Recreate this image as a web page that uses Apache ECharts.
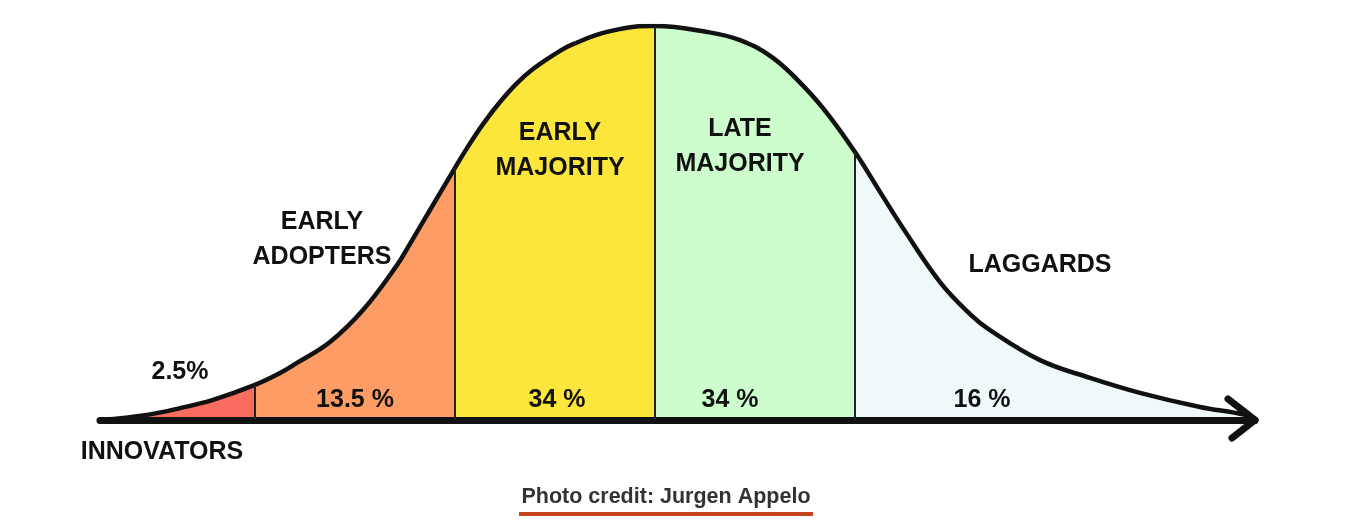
<!DOCTYPE html>
<html>
<head>
<meta charset="utf-8">
<script src="https://cdn.jsdelivr.net/npm/echarts@6/dist/echarts.min.js"></script>
<style>
  html, body { margin: 0; padding: 0; background: #fff; }
  #chart { width: 1370px; height: 524px; }
</style>
</head>
<body>
<div id="chart"></div>
<script>
// adoption curve, x in standard deviations from the mean, y = height as % of the peak
const curveX = [-2.775, -2.54, -2.375, -2.21, -2, -1.875, -1.79, -1.625, -1.46, -1.29, -1.225, -1.125,
  -1, -0.94, -0.86, -0.775, -0.69, -0.61, -0.475, -0.41, -0.24, -0.025, 0, 0.26, 0.425, 0.59, 0.76, 0.875,
  1, 1.125, 1.24, 1.425, 1.575, 1.675, 1.925, 2.175, 2.425, 2.725, 2.95, 3];
const curveY = [0, 1.3, 3.0, 5.1, 8.9, 11.9, 14.5, 19.8, 27.9, 39.3, 44.7, 53.3,
  64.0, 69.0, 75.1, 80.7, 85.5, 89.1, 93.7, 95.4, 98.5, 100, 100, 98.5, 96.4, 91.9, 83.8, 76.9,
  68.0, 57.9, 48.7, 35.0, 26.9, 22.8, 15.2, 10.7, 6.9, 3.3, 1.3, 0];

const groups = ['INNOVATORS', 'EARLY\nADOPTERS', 'EARLY\nMAJORITY', 'LATE\nMAJORITY', 'LAGGARDS'];
const shares = ['2.5%', '13.5 %', '34 %', '34 %', '16 %'];
const edges = [-2.775, -2, -1, 0, 1, 3];
const colors = ['#f96c60', '#fd9c64', '#fde63b', '#cdfccd', '#eff9fc'];

const points = curveX.map((x, i) => [x, curveY[i]]);

const chart = echarts.init(document.getElementById('chart'));
const font = 'Liberation Sans';

// where each text sits (data coords)
const groupPos = [[-2.465, -8.1], [-1.665, 45.7], [-0.475, 68.5], [0.425, 69.3], [1.925, 39.3]];
const sharePos = [[-2.375, 12.2], [-1.5, 5.1], [-0.49, 5.1], [0.375, 5.1], [1.635, 5.1]];

const areaSeries = colors.map((c, i) => ({
  type: 'line',
  smooth: 0.4,
  symbol: 'none',
  z: 1,
  lineStyle: { width: 0 },
  areaStyle: { color: c, opacity: 1 },
  data: points.filter(p => p[0] >= edges[i] && p[0] <= edges[i + 1])
}));

const dividers = edges.slice(1, 5).map(e => [
  { coord: [e, 0] },
  { coord: [e, curveY[curveX.indexOf(e)]] }
]);

const textData = groups.map((g, i) => ({ name: g, value: groupPos[i] }))
  .concat(shares.map((s, i) => ({ name: s, value: sharePos[i] })));

const option = {
  animation: false,
  grid: { left: 100, right: 115, top: 26, bottom: 104 },
  xAxis: {
    type: 'value', min: -2.775, max: 3, z: 4,
    axisLine: { show: true, lineStyle: { color: '#111', width: 7, cap: 'round' } },
    axisTick: { show: false }, axisLabel: { show: false }, splitLine: { show: false }
  },
  yAxis: {
    type: 'value', min: 0, max: 100,
    axisLine: { show: false }, axisTick: { show: false },
    axisLabel: { show: false }, splitLine: { show: false }
  },
  series: areaSeries.concat([
    {
      type: 'line',
      smooth: 0.4,
      symbol: 'none',
      z: 3,
      lineStyle: { color: '#111', width: 4.5, cap: 'round' },
      data: points,
      markLine: {
        silent: true,
        symbol: 'none',
        label: { show: false },
        lineStyle: { color: '#222', width: 2, type: 'solid' },
        data: dividers
      }
    },
    {
      type: 'scatter',
      symbolSize: 0,
      clip: false,
      z: 5,
      itemStyle: { opacity: 1 },
      label: {
        show: true,
        position: 'inside',
        formatter: p => p.name,
        color: '#111',
        opacity: 1,
        fontFamily: font,
        fontSize: 25,
        fontWeight: 'bold',
        lineHeight: 35,
        align: 'center'
      },
      data: textData
    }
  ]),
  graphic: [
    {
      id: 'credit', type: 'group', left: 519, top: 486,
      children: [
        { type: 'text', x: 147, y: 0, style: { text: 'Photo credit: Jurgen Appelo', fill: '#333',
          font: 'bold 21.5px "Liberation Sans", Arial, sans-serif', textAlign: 'center' } },
        { type: 'rect', x: 0, y: 26, shape: { width: 294, height: 4 }, style: { fill: '#c2451e' } }
      ]
    }
  ]
};
chart.setOption(option);

// open arrow head at the end of the axis
const tip = chart.convertToPixel({ gridIndex: 0 }, [3, 0]);
chart.setOption({
  graphic: [{
    id: 'arrow',
    type: 'polyline',
    z: 10,
    shape: { points: [[tip[0] - 27, tip[1] - 21], [tip[0], tip[1]], [tip[0] - 23, tip[1] + 18]] },
    style: { stroke: '#111', lineWidth: 7, fill: null, lineCap: 'round', lineJoin: 'round' }
  }]
});
</script>
</body>
</html>
